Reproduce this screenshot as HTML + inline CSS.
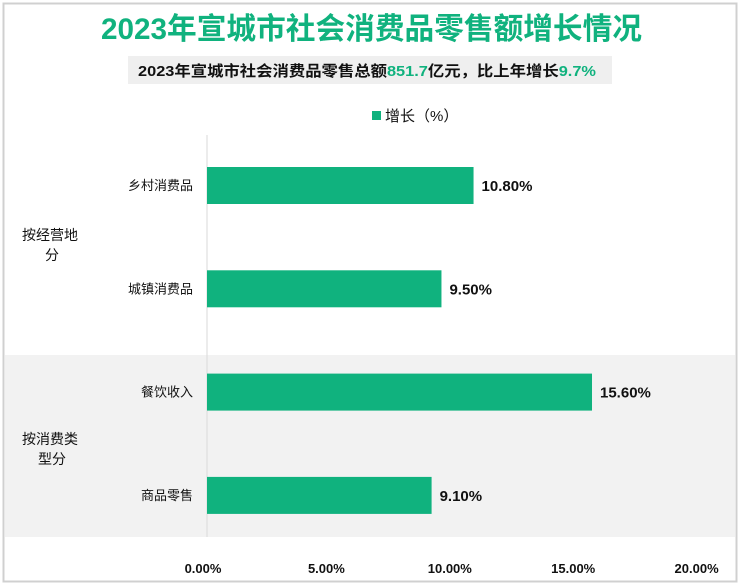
<!DOCTYPE html>
<html><head><meta charset="utf-8"><style>
body{margin:0;background:#fff}
svg{display:block;font-family:"Liberation Sans","Noto Sans CJK SC",sans-serif}
</style></head><body>
<svg id="chart" width="740" height="585" viewBox="0 0 740 585">
<rect x="3.5" y="3.5" width="733" height="578" fill="#fff" stroke="#d0d0d0" stroke-width="2"/>
<text x="101" y="39" font-size="30" font-weight="bold" fill="#10b27e" textLength="541" lengthAdjust="spacingAndGlyphs">2023年宣城市社会消费品零售额增长情况</text>
<rect x="128" y="56" width="484" height="28" fill="#efefef"/>
<text x="138" y="76" font-size="15" font-weight="bold" fill="#111" textLength="458" lengthAdjust="spacingAndGlyphs">2023年宣城市社会消费品零售总额<tspan fill="#10b27e">851.7</tspan>亿元，比上年增长<tspan fill="#10b27e">9.7%</tspan></text>
<rect x="372" y="111" width="9" height="9" fill="#10b27e"/>
<text x="385" y="121" font-size="15" fill="#111">增长（%）</text>
<rect x="5" y="355" width="730" height="182" fill="#f2f2f2"/>
<g id="plot"></g>
</svg>
<script>
const categories=["乡村消费品","城镇消费品","餐饮收入","商品零售"];
const values=[10.8,9.5,15.6,9.1];
const valueLabels=["10.80%","9.50%","15.60%","9.10%"];
const ticks=[0,5,10,15,20];
const tickLabels=["0.00%","5.00%","10.00%","15.00%","20.00%"];
const groups=["按经营地|分","按消费类|型分"];
const x0=207,pxPer=24.68;
const xs=v=>x0+v*pxPer;
const ys=i=>167+i*103.3;
const ns="http://www.w3.org/2000/svg";
const g=document.getElementById('plot');
function mk(t,a,txt){const e=document.createElementNS(ns,t);for(const k in a)e.setAttribute(k,a[k]);if(txt!=null)e.textContent=txt;g.appendChild(e);return e;}
const ax=mk('line',{x1:x0,x2:x0,y1:135,y2:537,stroke:'#d9d9d9'});


values.forEach((v,i)=>{
 const b=mk('rect',{x:x0,y:ys(i),width:xs(v)-x0,height:37,fill:'#10b27e'});
 
 
 const l=mk('text',{x:xs(v)+8,y:ys(i)+24,'font-size':15,'font-weight':'bold',fill:'#111'},valueLabels[i]);
 
 
 const c=mk('text',{x:193,y:ys(i)+23,'font-size':13,'text-anchor':'end',fill:'#111'},categories[i]);
 
 
});
groups.forEach((s,i)=>{
 const p=s.split('|');
 const t1=mk('text',{x:22,y:240+i*204,'font-size':14,fill:'#111'},p[0]);
 
 
 const t2=mk('text',{x:52,y:260+i*204,'font-size':14,fill:'#111','text-anchor':'middle'},p[1]);
 
 
});
ticks.forEach((t,i)=>{
 const e=mk('text',{x:xs(t)-4,y:573,'font-size':13,'font-weight':'bold','text-anchor':'middle',fill:'#111'},tickLabels[i]);
 
 
});
</script>
</body></html>
